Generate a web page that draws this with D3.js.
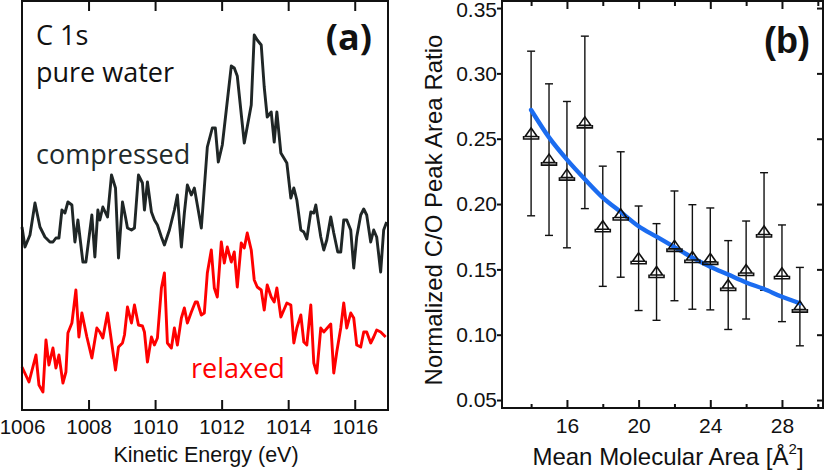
<!DOCTYPE html>
<html>
<head>
<meta charset="utf-8">
<script src="https://cdn.jsdelivr.net/npm/d3@7"></script>
<style>
  body { margin: 0; background: #fff; }
  svg { display: block; }
</style>
</head>
<body>
<svg id="chart" width="827" height="471"></svg>
<script>
'use strict';

// ---- panel (a) : C 1s spectra ----
var compressedEnergy = [1006.00,1006.09,1006.24,1006.39,1006.54,1006.69,1006.84,1006.93,1007.02,1007.11,1007.20,1007.29,1007.38,1007.50,1007.59,1007.68,1007.83,1007.92,1008.10,1008.19,1008.28,1008.34,1008.43,1008.57,1008.69,1008.81,1008.90,1009.02,1009.11,1009.17,1009.29,1009.38,1009.50,1009.62,1009.68,1009.77,1009.89,1009.98,1010.07,1010.19,1010.28,1010.43,1010.58,1010.67,1010.79,1010.88,1010.97,1011.09,1011.18,1011.27,1011.39,1011.57,1011.72,1011.81,1011.90,1012.02,1012.14,1012.29,1012.38,1012.47,1012.68,1012.89,1012.98,1013.07,1013.19,1013.28,1013.37,1013.49,1013.58,1013.66,1013.78,1013.96,1014.08,1014.17,1014.26,1014.38,1014.47,1014.56,1014.68,1014.77,1014.83,1014.98,1015.07,1015.16,1015.28,1015.37,1015.49,1015.58,1015.67,1015.76,1015.88,1015.97,1016.06,1016.18,1016.27,1016.36,1016.48,1016.57,1016.66,1016.78,1016.87,1016.96];
var compressedCounts = [183,163,175,207,183,173,168,168,172,172,200,197,208,205,168,190,148,148,195,153,200,190,203,193,235,222,152,208,193,182,180,182,235,227,200,228,198,190,185,173,165,180,200,215,163,197,225,215,222,205,182,263,282,282,248,265,300,344,342,334,267,305,375,370,365,323,293,298,268,298,257,247,212,222,210,180,178,171,198,197,205,173,160,170,193,177,158,158,190,190,180,142,173,195,201,195,168,180,173,138,180,188];

var relaxedEnergy = [1006.00,1006.21,1006.42,1006.51,1006.63,1006.72,1006.81,1006.93,1007.02,1007.11,1007.23,1007.32,1007.38,1007.50,1007.62,1007.71,1007.80,1007.95,1008.10,1008.25,1008.34,1008.43,1008.57,1008.81,1008.90,1009.02,1009.08,1009.17,1009.29,1009.38,1009.50,1009.62,1009.68,1009.77,1009.89,1009.98,1010.07,1010.19,1010.28,1010.37,1010.49,1010.58,1010.67,1010.79,1010.88,1010.97,1011.09,1011.21,1011.27,1011.39,1011.48,1011.57,1011.69,1011.78,1011.87,1011.99,1012.08,1012.17,1012.29,1012.38,1012.47,1012.59,1012.68,1012.77,1012.89,1012.98,1013.07,1013.19,1013.28,1013.37,1013.49,1013.58,1013.66,1013.78,1013.87,1013.96,1014.08,1014.17,1014.26,1014.38,1014.47,1014.56,1014.68,1014.77,1014.86,1014.98,1015.07,1015.28,1015.37,1015.46,1015.58,1015.67,1015.76,1015.88,1015.97,1016.06,1016.18,1016.27,1016.36,1016.48,1016.57,1016.66,1016.78,1016.93];
var relaxedCounts = [43,28,55,25,18,70,45,62,42,55,27,38,77,87,120,73,97,73,52,82,78,72,97,40,63,67,75,103,87,105,85,84,78,48,73,65,72,122,137,67,62,82,65,92,102,87,98,108,108,95,97,137,160,122,113,168,147,163,148,158,123,167,162,177,160,130,123,120,100,125,113,108,122,93,100,107,105,67,82,95,68,65,105,47,37,82,78,86,37,58,82,107,82,97,92,65,63,78,78,67,73,80,78,73];

var energyTicks = [1006, 1008, 1010, 1012, 1014, 1016];

// ---- panel (b) : C/O ratio vs area ----
var area = [14,15,16,17,18,19,20,21,22,23,24,25,26,27,28,29];
var ratio = [0.254,0.234,0.2225,0.2625,0.183,0.192,0.1585,0.148,0.168,0.1595,0.158,0.138,0.1495,0.179,0.147,0.1215];
var ratioErr = [0.063,0.058,0.056,0.066,0.046,0.048,0.040,0.037,0.042,0.040,0.039,0.034,0.0375,0.045,0.037,0.030];
var fitRatio = [0.272,0.251,0.234,0.219,0.205,0.194,0.183,0.175,0.167,0.159,0.152,0.146,0.140,0.135,0.129,0.124];
var areaTicks = [16, 20, 24, 28];
var areaMinorTicks = [14, 18, 22, 26, 30];
var ratioTicks = [0.05, 0.10, 0.15, 0.20, 0.25, 0.30, 0.35];

var svg = d3.select('#chart');
svg.append('rect').attr('width', 827).attr('height', 471).attr('fill', '#fff');

var axisFont = 'Liberation Sans, Arial, Helvetica, sans-serif';
var noteFont = 'Open Sans, Noto Sans, sans-serif';

//************************************************
//** Panel (a) ***********************************
//************************************************
var ax = {left: 22, right: 388, top: 1, bottom: 410};
var xA = d3.scaleLinear().domain([1006, 1017]).range([ax.left, ax.right]);
var yA = d3.scaleLinear().domain([0, 409]).range([ax.bottom, ax.top]);

var gA = svg.append('g');

var lineA = d3.line().x(function (d) { return xA(d[0]); }).y(function (d) { return yA(d[1]); });

gA.append('path')
  .datum(d3.zip(compressedEnergy, compressedCounts))
  .attr('d', lineA).attr('fill', 'none')
  .attr('stroke', '#1f2626').attr('stroke-width', 2.9).attr('stroke-linejoin', 'round');

gA.append('path')
  .datum(d3.zip(relaxedEnergy, relaxedCounts))
  .attr('d', lineA).attr('fill', 'none')
  .attr('stroke', '#ff0000').attr('stroke-width', 2.9).attr('stroke-linejoin', 'round');

//bottom axis, ticks point inward
var botA = gA.append('g').attr('transform', 'translate(0,' + ax.bottom + ')')
  .call(d3.axisBottom(xA).tickValues(energyTicks).tickSize(-10).tickPadding(9).tickFormat(d3.format('d')));
//top axis, no labels
var topA = gA.append('g').attr('transform', 'translate(0,' + ax.top + ')')
  .call(d3.axisTop(xA).tickValues(energyTicks.slice(1)).tickSize(-10).tickFormat(''));
[botA, topA].forEach(function (g) {
  g.select('.domain').remove();
  g.selectAll('.tick line').attr('stroke', '#111').attr('stroke-width', 2);
});
botA.selectAll('.tick line').filter(function (d) { return d === 1006; }).remove();
botA.selectAll('text').attr('font-family', axisFont).attr('font-size', 20.5).attr('fill', '#111');

gA.append('rect')
  .attr('x', ax.left).attr('y', ax.top)
  .attr('width', ax.right - ax.left).attr('height', ax.bottom - ax.top)
  .attr('fill', 'none').attr('stroke', '#111').attr('stroke-width', 2);

gA.append('text').attr('x', 206).attr('y', 462)
  .attr('text-anchor', 'middle').attr('font-family', axisFont).attr('font-size', 21.5).attr('fill', '#111')
  .text('Kinetic Energy (eV)');

//annotations
var notes = [
  {t: 'C 1s', x: 36, y: 45, c: '#111'},
  {t: 'pure water', x: 36, y: 82, c: '#111'},
  {t: 'compressed', x: 36, y: 164, c: '#222a2a'},
  {t: 'relaxed', x: 191, y: 378, c: '#ff0000'}
];
gA.selectAll('.note').data(notes).enter().append('text').classed('note', true)
  .attr('x', function (d) { return d.x; }).attr('y', function (d) { return d.y; })
  .attr('font-family', noteFont).attr('font-size', 27).attr('fill', function (d) { return d.c; })
  .text(function (d) { return d.t; });

gA.append('text').attr('x', 372).attr('y', 50).attr('text-anchor', 'end')
  .attr('font-family', noteFont).attr('font-weight', 'bold').attr('font-size', 36).attr('fill', '#111')
  .text('(a)');

//************************************************
//** Panel (b) ***********************************
//************************************************
var bx = {left: 502, right: 823, top: 1, bottom: 408};
var xB = d3.scaleLinear().domain([12.32, 30.29]).range([501, 823]);
var yB = d3.scaleLinear().domain([0.0439, 0.3554]).range([bx.bottom, bx.top]);

var gB = svg.append('g');

//error bars
var pts = area.map(function (a, i) { return {x: a, y: ratio[i], e: ratioErr[i]}; });
var bars = gB.selectAll('.ebar').data(pts).enter().append('g').classed('ebar', true)
  .attr('stroke', '#111').attr('stroke-width', 1.4).attr('fill', 'none');
bars.append('line')
  .attr('x1', function (d) { return xB(d.x); }).attr('x2', function (d) { return xB(d.x); })
  .attr('y1', function (d) { return yB(d.y + d.e); }).attr('y2', function (d) { return yB(d.y - d.e); });
[1, -1].forEach(function (s) {
  bars.append('line')
    .attr('x1', function (d) { return xB(d.x) - 4; }).attr('x2', function (d) { return xB(d.x) + 4; })
    .attr('y1', function (d) { return yB(d.y + s * d.e); }).attr('y2', function (d) { return yB(d.y + s * d.e); });
});

//fit curve
gB.append('path')
  .datum(d3.zip(area, fitRatio))
  .attr('d', d3.line().curve(d3.curveMonotoneX)
    .x(function (d) { return xB(d[0]); }).y(function (d) { return yB(d[1]); }))
  .attr('fill', 'none').attr('stroke', '#1b6cf0').attr('stroke-width', 4.4).attr('stroke-linecap', 'round');

//markers : open triangle sitting on a small bracket
var marks = gB.selectAll('.mark').data(pts).enter().append('g').classed('mark', true)
  .attr('transform', function (d) { return 'translate(' + xB(d.x) + ',' + yB(d.y) + ')'; })
  .attr('stroke', '#111').attr('stroke-width', 1.6).attr('fill', 'none');
marks.append('path').attr('d', 'M0,-5.5L-6,3L6,3Z');
marks.append('path').attr('d', 'M-7.5,2.5L-7.5,5.5L7.5,5.5L7.5,2.5');

//axes
var leftB = gB.append('g').attr('transform', 'translate(' + 501 + ',0)')
  .call(d3.axisLeft(yB).tickValues(ratioTicks).tickSize(4).tickPadding(0).tickFormat(d3.format('.2f')));
var rightB = gB.append('g').attr('transform', 'translate(' + bx.right + ',0)')
  .call(d3.axisRight(yB).tickValues(ratioTicks).tickSize(-6).tickFormat(''));
var botB = gB.append('g').attr('transform', 'translate(0,' + bx.bottom + ')')
  .call(d3.axisBottom(xB).tickValues(areaTicks).tickSize(-8).tickPadding(10).tickFormat(d3.format('d')));
var botMinor = gB.append('g').attr('transform', 'translate(0,' + bx.bottom + ')')
  .call(d3.axisBottom(xB).tickValues(areaMinorTicks).tickSize(-4).tickFormat(''));
var topB = gB.append('g').attr('transform', 'translate(0,' + bx.top + ')')
  .call(d3.axisTop(xB).tickValues(areaTicks).tickSize(-8).tickFormat(''));
var topMinor = gB.append('g').attr('transform', 'translate(0,' + bx.top + ')')
  .call(d3.axisTop(xB).tickValues(areaMinorTicks).tickSize(-5).tickFormat(''));
[leftB, rightB, botB, botMinor, topB, topMinor].forEach(function (g) {
  g.select('.domain').remove();
  g.selectAll('.tick line').attr('stroke', '#111').attr('stroke-width', 2);
  g.selectAll('text').attr('font-family', axisFont).attr('font-size', 21).attr('fill', '#111');
});
//keep the top label inside the picture
leftB.selectAll('.tick text').filter(function (d) { return d === 0.35; }).attr('dy', '0.42em');

gB.append('rect')
  .attr('x', bx.left).attr('y', bx.top)
  .attr('width', bx.right - bx.left).attr('height', bx.bottom - bx.top)
  .attr('fill', 'none').attr('stroke', '#111').attr('stroke-width', 2);

//axis titles
var xTitle = gB.append('text').attr('x', 668).attr('y', 465).attr('text-anchor', 'middle')
  .attr('font-family', axisFont).attr('font-size', 24).attr('fill', '#111');
xTitle.append('tspan').text('Mean Molecular Area [\u00c5');
xTitle.append('tspan').attr('dy', -11).attr('font-size', 15).text('2');
xTitle.append('tspan').attr('dy', 11).text(']');

gB.append('text').attr('transform', 'translate(442,210) rotate(-90)')
  .attr('text-anchor', 'middle').attr('font-family', axisFont).attr('font-size', 24).attr('fill', '#111')
  .text('Normalized C/O Peak Area Ratio');

gB.append('text').attr('x', 810).attr('y', 53).attr('text-anchor', 'end')
  .attr('font-family', axisFont).attr('font-weight', 'bold').attr('font-size', 36).attr('fill', '#111')
  .text('(b)');
</script>
</body>
</html>
